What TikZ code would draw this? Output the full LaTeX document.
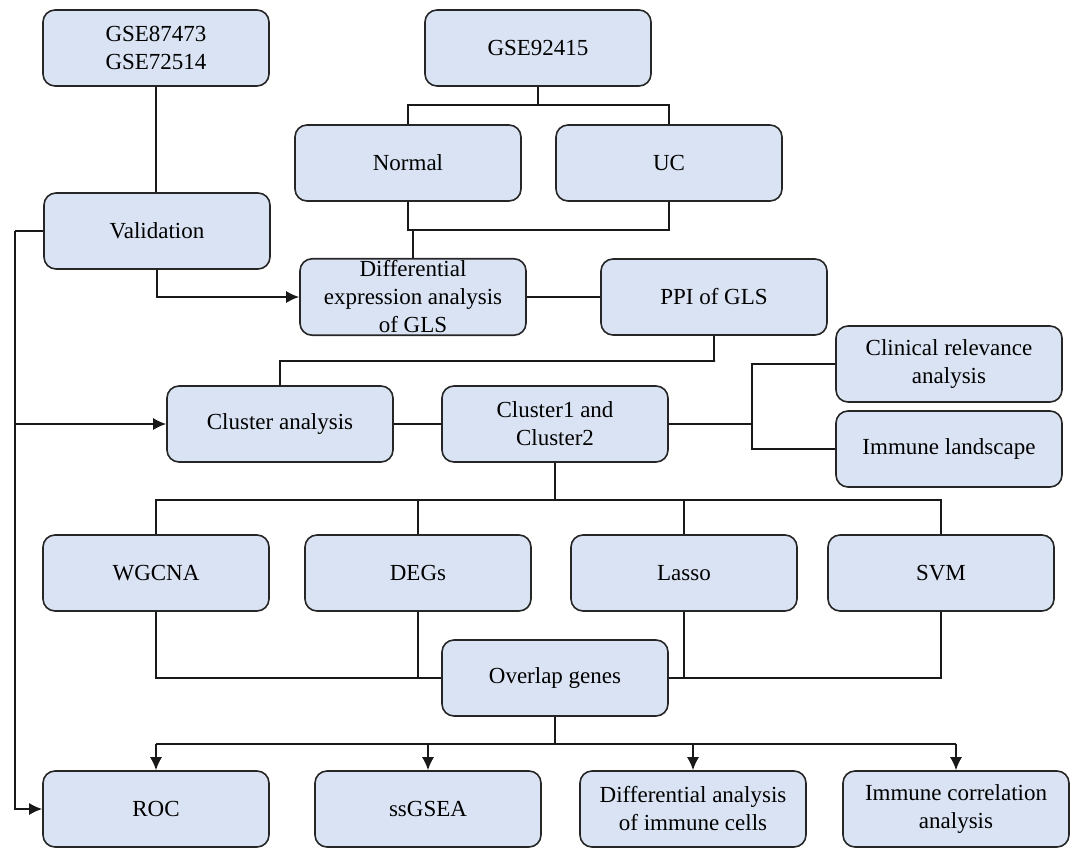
\documentclass[tikz,border=0pt]{standalone}
\usepackage{fontspec}
\setmainfont{Liberation Serif}
\newfontfamily\diagfont{Liberation Serif}
\usetikzlibrary{arrows.meta}
\definecolor{boxfill}{RGB}{218,227,243}
\begin{document}
\begin{tikzpicture}[x=1pt,y=-1pt,
  box/.style={draw=black!85, line width=1.6pt, fill=boxfill, rounded corners=12pt,
    minimum width=226pt, minimum height=76pt, inner sep=2pt, align=center,
    font=\diagfont\fontsize{23}{28}\selectfont},
  conn/.style={line width=1.6pt, draw=black!90},
  arr/.style={conn, -{Latex[length=13pt,width=12pt]}}]
\useasboundingbox (0,0) rectangle (1077,847);
% nodes
\node[box] (gse87) at (156,48) {GSE87473\\GSE72514};
\node[box] (gse92) at (538,48) {GSE92415};
\node[box] (normal) at (408,163) {Normal};
\node[box] (uc) at (669,163) {UC};
\node[box] (valid) at (157,231) {Validation};
\node[box] (diff) at (413,297) {Differential\\expression analysis\\of GLS};
\node[box] (ppi) at (714,297) {PPI of GLS};
\node[box] (clin) at (949,364) {Clinical relevance\\analysis};
\node[box] (clus) at (280,424) {Cluster analysis};
\node[box] (c12) at (555,424) {Cluster1 and\\Cluster2};
\node[box] (immland) at (949,449) {Immune landscape};
\node[box] (wgcna) at (156,573) {WGCNA};
\node[box] (degs) at (418,573) {DEGs};
\node[box] (lasso) at (684,573) {Lasso};
\node[box] (svm) at (941,573) {SVM};
\node[box] (overlap) at (555,678) {Overlap genes};
\node[box] (roc) at (156,809) {ROC};
\node[box] (ssg) at (428,809) {ssGSEA};
\node[box] (dai) at (693,809) {Differential analysis\\of immune cells};
\node[box] (ica) at (956,809) {Immune correlation\\analysis};
% coordinates
\coordinate (ja) at (538,105);
\coordinate (jb) at (413,230);
\coordinate (jc) at (715,361);
\coordinate (jd) at (752,424);
\coordinate (je) at (555,500);
\coordinate (jf) at (555,744);
\coordinate (lx) at (15,231);
% connectors
\draw[conn] (gse87.south) -- (gse87.south |- valid.north);
\draw[conn] (gse92.south) -- (ja);
\draw[conn] (normal.north) |- (ja) -| (uc.north);
\draw[conn] (normal.south) |- (jb) -| (uc.south);
\draw[conn] (jb) -- (diff.north);
\draw[arr] (valid.south) |- (diff.west);
\draw[conn] (diff.east) -- (ppi.west);
\draw[conn] (ppi.south) |- (jc) -| (clus.north);
\draw[conn] (clus.east) -- (c12.west);
\draw[conn] (c12.east) -- (jd);
\draw[conn] (jd) |- (clin.west);
\draw[conn] (jd) |- (immland.west);
\draw[conn] (c12.south) -- (je);
\draw[conn] (wgcna.north) |- (je) -| (svm.north);
\draw[conn] (degs.north) -- (degs.north |- je);
\draw[conn] (lasso.north) -- (lasso.north |- je);
\draw[conn] (wgcna.south) |- (overlap.west);
\draw[conn] (degs.south) -- (degs.south |- overlap.west);
\draw[conn] (svm.south) |- (overlap.east);
\draw[conn] (lasso.south) -- (lasso.south |- overlap.east);
\draw[conn] (overlap.south) -- (jf);
\draw[conn] (roc.north |- jf) -- (ica.north |- jf);
\draw[arr] (roc.north |- jf) -- (roc.north);
\draw[arr] (ssg.north |- jf) -- (ssg.north);
\draw[arr] (dai.north |- jf) -- (dai.north);
\draw[arr] (ica.north |- jf) -- (ica.north);
\draw[conn] (valid.west) -- (lx);
\draw[arr] (lx) |- (roc.west);
\draw[arr] (lx |- clus.west) -- (clus.west);
\end{tikzpicture}
\end{document}
